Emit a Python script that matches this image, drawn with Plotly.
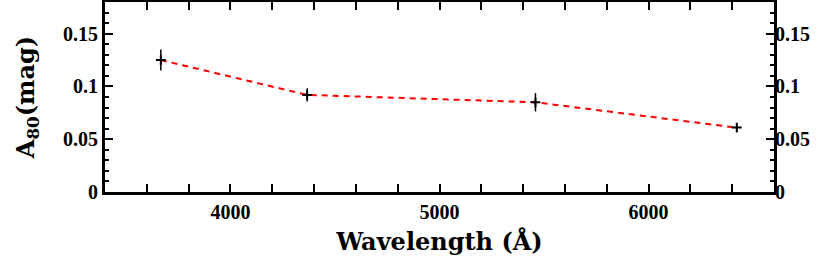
import plotly.graph_objects as go

wavelength = [3667, 4367, 5459, 6422]
a_mag = [0.125, 0.092, 0.085, 0.061]
a_err = [0.010, 0.0063, 0.0087, 0.003]

y_ticks = [0, 0.05, 0.1, 0.15]
y_ticklabels = ["0", "0.05", "0.1", "0.15"]
x_ticks = [4000, 5000, 6000]

FONT = "Liberation Serif"
TFONT = "DejaVu Serif"
tickfont = dict(family=FONT, size=20, color="black", weight="bold")

fig = go.Figure()
fig.add_trace(go.Scatter(
    x=wavelength, y=a_mag, mode="lines",
    line=dict(color="#ff0000", width=2, dash="6px,5px"),
    showlegend=False, hoverinfo="skip"))
fig.add_trace(go.Scatter(
    x=wavelength, y=a_mag, mode="markers",
    marker=dict(symbol="cross-thin", size=7, line=dict(color="black", width=2), color="black"),
    error_y=dict(type="data", array=a_err, visible=True, color="black", thickness=1.5, width=0),
    showlegend=False))
# invisible trace to anchor right-hand axis labels
fig.add_trace(go.Scatter(x=wavelength, y=a_mag, yaxis="y2", mode="markers",
                         marker=dict(opacity=0), showlegend=False, hoverinfo="skip"))

axis_common = dict(showgrid=False, zeroline=False, showline=True, linecolor="black",
                   ticks="inside", tickcolor="black", automargin=False)

fig.update_layout(
    width=830, height=259,
    margin=dict(l=105, r=56, t=2, b=67),
    paper_bgcolor="white", plot_bgcolor="white",
    xaxis=dict(range=[3400, 6600], tickvals=x_ticks, linewidth=3, mirror="allticks",
               ticklen=8, tickwidth=2, tickfont=tickfont,
               minor=dict(dtick=200, ticklen=4, tickwidth=2, tickcolor="black", ticks="inside"),
               title=dict(text="Wavelength (Å)", standoff=12,
                          font=dict(family=TFONT, size=24, color="black", weight="bold")),
               **axis_common),
    yaxis=dict(range=[0, 0.18], tickvals=y_ticks, ticktext=y_ticklabels, linewidth=3,
               mirror="allticks", ticklen=8, tickwidth=2, tickfont=tickfont,
               minor=dict(dtick=0.01, ticklen=4, tickwidth=1.5, tickcolor="black", ticks="inside"),
               title=dict(text="A<sub>80</sub>(mag)", standoff=22,
                          font=dict(family=TFONT, size=24, color="black", weight="bold")),
               **axis_common),
    yaxis2=dict(range=[0, 0.18], overlaying="y", side="right", tickvals=y_ticks,
                ticktext=y_ticklabels, showgrid=False, zeroline=False, showline=False,
                ticks="", tickfont=tickfont, automargin=False),
)

fig.write_html("out.html", config={"displayModeBar": False},
               post_script="document.body.style.margin='0';")
